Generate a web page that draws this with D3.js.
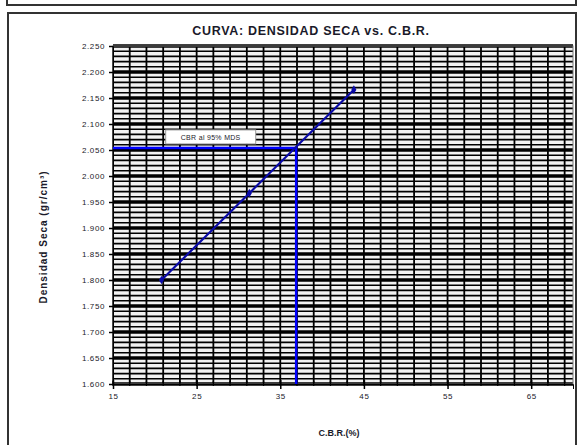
<!DOCTYPE html>
<html>
<script src="https://d3js.org/d3.v7.min.js"></script>
<style>
    body { margin: 0; background: #fff; }
    text { font-family: "Liberation Sans", Arial, sans-serif; fill: #1a1a2a; }
    .domain { stroke: #000; }
</style>
<body></body>
<script>
    const width = 581,
        height = 445;

    // data
    const cbr = [20.8, 31.3, 43.8];
    const dens = [1.800, 1.967, 2.166];
    const cbr95 = 36.9;
    const dens95 = 2.054;
    const xTicks = [15, 25, 35, 45, 55, 65];
    const yTicks = [1.60, 1.65, 1.70, 1.75, 1.80, 1.85, 1.90, 1.95, 2.00, 2.05, 2.10, 2.15, 2.20, 2.25];
    const note = "CBR al 95% MDS";

    const svg = d3.select("body").append("svg").attr("width", width).attr("height", height);

    // frames
    svg.append("rect").attr("x", 7).attr("y", -10).attr("width", 569).attr("height", 15)
        .attr("fill", "none").attr("stroke", "#333").attr("stroke-width", 2);
    svg.append("rect").attr("x", 8).attr("y", 13).attr("width", 568).attr("height", 445)
        .attr("fill", "none").attr("stroke", "#333").attr("stroke-width", 2);

    const x = d3.scaleLinear().domain([15, 70]).range([113, 573]);
    const y = d3.scaleLinear().domain([1.6, 2.25]).range([384, 46]);

    svg.append("rect").attr("x", x(15)).attr("y", y(2.25))
        .attr("width", x(70) - x(15)).attr("height", y(1.6) - y(2.25))
        .attr("fill", "#f2f2f2");

    // grid
    const minorY = d3.range(160, 226).map(v => v / 100);
    svg.append("g").selectAll("line").data(minorY).join("line")
        .attr("x1", x(15)).attr("x2", x(70))
        .attr("y1", d => y(d)).attr("y2", d => y(d))
        .attr("stroke", "#000").attr("stroke-width", 1.6);
    svg.append("g").selectAll("line").data(yTicks).join("line")
        .attr("x1", x(15)).attr("x2", x(70))
        .attr("y1", d => y(d)).attr("y2", d => y(d))
        .attr("stroke", "#000").attr("stroke-width", 3.5);
    const minorX = d3.range(15, 71, 2);
    svg.append("g").selectAll("line").data(minorX).join("line")
        .attr("x1", d => x(d)).attr("x2", d => x(d))
        .attr("y1", y(1.6)).attr("y2", y(2.25))
        .attr("stroke", "#000").attr("stroke-width", 1.8);

    svg.append("rect").attr("x", x(15)).attr("y", y(2.25))
        .attr("width", x(70) - x(15)).attr("height", y(1.6) - y(2.25))
        .attr("fill", "none").attr("stroke", "#777").attr("stroke-width", 1);

    // axes
    const yAxis = svg.append("g").attr("transform", `translate(${x(15)},0)`)
        .call(d3.axisLeft(y).tickValues(yTicks).tickFormat(d3.format(".3f")).tickSize(4).tickPadding(4));
    yAxis.selectAll("text").attr("font-size", 8).attr("letter-spacing", 0.6);
    yAxis.selectAll("line").attr("stroke-width", 1.5);

    const xAxis = svg.append("g").attr("transform", `translate(0,${y(1.6)})`)
        .call(d3.axisBottom(x).tickValues(xTicks).tickFormat(d3.format("d")).tickSize(5).tickPadding(4));
    xAxis.selectAll("text").attr("font-size", 8).attr("letter-spacing", 0.6);
    xAxis.selectAll("line").attr("stroke-width", 1.5).attr("y1", -4);
    svg.append("g").selectAll("line").data(minorX).join("line")
        .attr("x1", d => x(d)).attr("x2", d => x(d))
        .attr("y1", y(1.6) - 3).attr("y2", y(1.6) + 2)
        .attr("stroke", "#000").attr("stroke-width", 1.2);

    // CBR at 95% lines
    svg.append("path")
        .attr("d", d3.line()([[x(15), y(dens95)], [x(cbr95), y(dens95)], [x(cbr95), y(1.6)]]))
        .attr("fill", "none").attr("stroke", "#0000ff").attr("stroke-width", 2.5);

    // curve
    const pts = cbr.map((c, i) => [c, dens[i]]);
    svg.append("path")
        .attr("d", d3.line().x(d => x(d[0])).y(d => y(d[1]))(pts))
        .attr("fill", "none").attr("stroke", "#0a0aa8").attr("stroke-width", 2.2);
    svg.append("g").selectAll("path").data(pts).join("path")
        .attr("transform", d => `translate(${x(d[0])},${y(d[1])})`)
        .attr("d", d3.symbol(d3.symbolDiamond, 22))
        .attr("fill", "#0a0aa8");

    // note box
    const nx = x(21.3), ny = y(dens95) - 18;
    svg.append("rect").attr("x", nx).attr("y", ny).attr("width", 90).attr("height", 14)
        .attr("fill", "#fff").attr("stroke", "#999").attr("stroke-width", 1);
    svg.append("text").attr("x", nx + 45).attr("y", ny + 10).attr("text-anchor", "middle")
        .attr("font-size", 7).attr("letter-spacing", 0.3).text(note);

    // titles
    svg.append("text").attr("x", 311).attr("y", 35).attr("text-anchor", "middle")
        .attr("font-size", 12.5).attr("font-weight", "bold").attr("letter-spacing", 0.7).attr("fill", "#1a1a40")
        .text("CURVA: DENSIDAD SECA vs. C.B.R.");
    svg.append("text").attr("x", 339).attr("y", 436).attr("text-anchor", "middle")
        .attr("font-size", 9).attr("font-weight", "bold")
        .text("C.B.R.(%)");
    svg.append("text").attr("transform", "translate(47,237) rotate(-90)").attr("text-anchor", "middle")
        .attr("font-size", 10).attr("font-weight", "bold").attr("letter-spacing", 1)
        .text("Densidad  Seca (gr/cm³)");
</script>
</html>
